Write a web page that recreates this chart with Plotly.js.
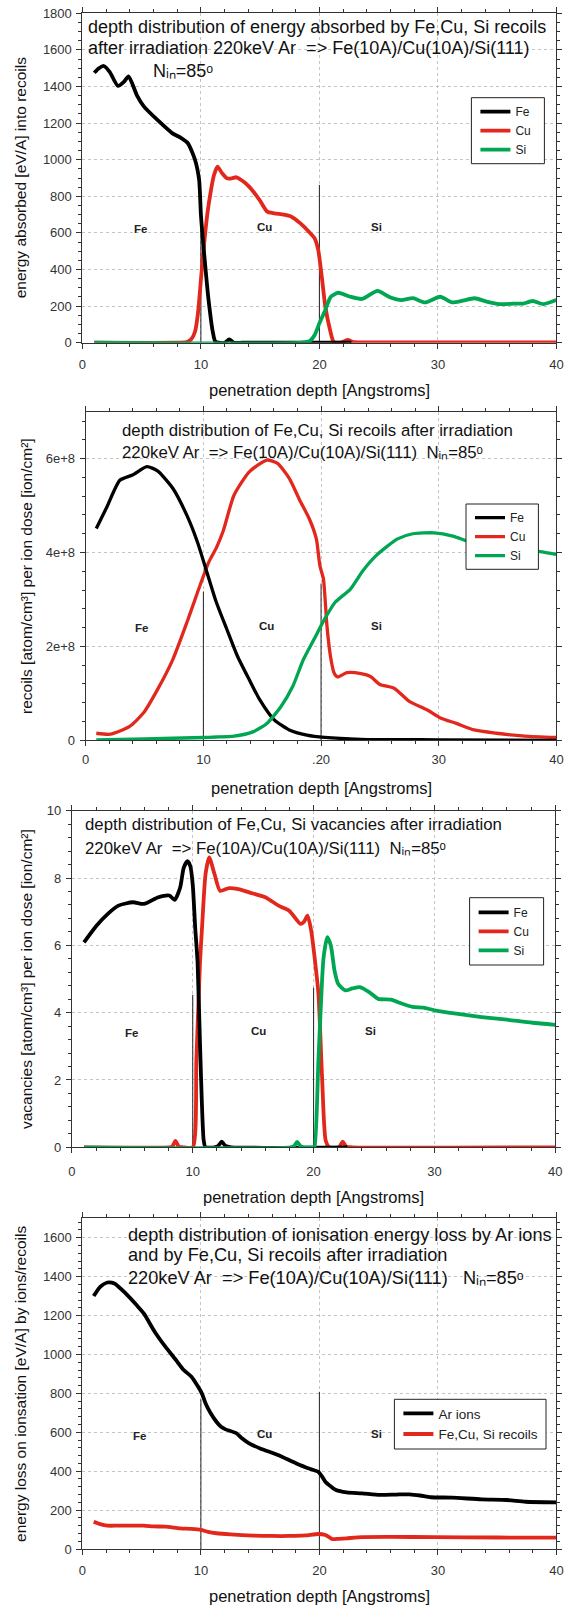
<!DOCTYPE html>
<html>
<head>
<meta charset="utf-8">
<script src="https://cdn.plot.ly/plotly-3.0.1.min.js"></script>
<style>
html,body{margin:0;padding:0;background:#fff;}
#chart{width:566px;height:1605px;}
</style>
</head>
<body>
<div id="chart"></div>
<script>
// ---------------- DATA ----------------
// Panel 1: energy absorbed [eV/A] into recoils
const p1FeX = [1.0,1.4,1.8,2.3,3.0,3.5,3.9,4.6,5.2,6.4,7.6,8.25,8.9,9.5,9.85,10.0,10.2,10.4,10.6,10.85,11.0,11.2,11.5,12.0,12.4,12.8,13.5,20.0,22.7];
const p1FeY = [1475,1500,1512,1480,1403,1425,1455,1352,1290,1213,1144,1122,1090,1000,890,700,540,397,260,124,60,8,0,0,18,0,0,0,0];
const p1CuX = [1,8,8.8,9.2,9.5,9.75,10.0,10.25,10.55,10.85,11.1,11.4,11.8,12.2,12.6,13.0,13.7,14.4,15.0,15.6,16.2,17.0,17.6,18.4,19.1,19.6,19.9,20.2,20.5,20.9,21.2,21.6,22.0,22.4,22.8,23.5,30,40];
const p1CuY = [0,0,3,20,60,160,343,525,707,834,915,962,925,898,898,904,875,828,775,716,707,700,690,652,607,570,507,361,197,69,5,0,5,15,5,2,2,2];
const p1SiX = [1,18.5,19.2,19.6,20.0,20.5,20.96,21.6,22.6,23.6,24.9,26.0,26.9,27.9,28.9,30.2,31.2,32.0,33.1,34.1,35.2,36.4,37.2,38.0,38.9,40];
const p1SiY = [0,0,10,42,106,179,251,273,251,239,283,247,233,243,220,251,220,228,243,225,211,213,214,228,211,233];

// Panel 2: recoils [atom/cm3] per ion dose [ion/cm2]
const p2FeX = [0.9,1.8,2.9,3.97,5.2,6.1,7.4,8.6,9.5,10.3,11.1,12.0,12.9,13.9,14.8,16.0,17.3,18.8,20.3,23.4,30,40];
const p2FeY = [4.51e8,4.97e8,5.54e8,5.65e8,5.83e8,5.74e8,5.37e8,4.79e8,4.22e8,3.58e8,2.94e8,2.36e8,1.79e8,1.29e8,0.86e8,0.44e8,0.22e8,0.11e8,0.06e8,0.02e8,0.01e8,0];
const p2CuX = [0.9,2.1,3.7,4.9,6.1,7.4,8.6,9.5,10.45,11.1,11.7,12.6,13.9,15.4,16.3,17.3,18.2,19.0,19.6,19.9,20.2,20.5,20.8,21.1,21.4,22.2,23.4,24.2,25.0,26.2,27.5,29.0,30.2,31.5,33.0,34.9,37.3,40];
const p2CuY = [0.15e8,0.13e8,0.29e8,0.58e8,1.08e8,1.72e8,2.51e8,3.15e8,3.79e8,4.1e8,4.47e8,5.22e8,5.72e8,5.97e8,5.9e8,5.58e8,5.11e8,4.72e8,4.29e8,3.72e8,3.44e8,2.44e8,1.79e8,1.44e8,1.35e8,1.44e8,1.42e8,1.36e8,1.19e8,1.11e8,0.83e8,0.65e8,0.47e8,0.36e8,0.22e8,0.15e8,0.09e8,0.06e8];
const p2SiX = [0.9,5,10,11.1,12.6,14.2,15.4,16.6,17.6,18.5,19.4,20.3,21.2,22.5,23.1,23.46,24.7,26.5,27.8,29.6,31.2,32.7,34.5,36.5,38.6,40];
const p2SiY = [0.01e8,0.03e8,0.06e8,0.07e8,0.09e8,0.18e8,0.36e8,0.72e8,1.15e8,1.72e8,2.15e8,2.58e8,2.94e8,3.22e8,3.44e8,3.58e8,3.94e8,4.29e8,4.4e8,4.42e8,4.35e8,4.22e8,4.15e8,4.08e8,4.02e8,3.96e8];

// Panel 3: vacancies [atom/cm3] per ion dose [ion/cm2]
const p3FeX = [1.0,2.05,2.95,3.85,5.05,5.95,7.16,8.06,8.5,8.96,9.25,9.56,9.8,10.0,10.2,10.4,10.6,10.9,11.05,11.8,12.1,12.4,12.7,13.2,22.8];
const p3FeY = [6.09,6.59,6.93,7.18,7.28,7.23,7.43,7.48,7.35,7.72,8.3,8.5,8.35,7.8,6.54,5.5,3.08,0.22,0,0,0.04,0.17,0.04,0,0];
const p3CuX = [1,8.0,8.3,8.57,8.85,9.2,10.0,10.3,10.6,10.77,11.06,11.36,11.8,12.26,13.0,13.77,14.97,16.0,17.1,17.98,18.9,19.2,19.5,19.8,20.08,20.4,20.7,21.0,21.3,22.1,22.4,22.7,23.2,40];
const p3CuY = [0,0,0.02,0.19,0.02,0,0,2.59,5.5,6.54,8.12,8.61,8.12,7.62,7.7,7.67,7.54,7.43,7.18,7.03,6.64,6.7,6.88,6.44,5.65,4.56,2.09,0.2,0,0,0.17,0.02,0,0];
const p3SiX = [1,18.1,18.4,18.64,18.9,19.2,20.0,20.08,20.4,20.7,20.83,21.13,21.43,21.73,22.03,22.63,23.2,23.84,24.6,25.34,26.4,27.0,28.2,29.1,30.0,31.8,33.9,36.0,38.1,40];
const p3SiY = [0,0,0.04,0.16,0.04,0,0,0,2.59,4.96,5.65,6.24,5.99,5.25,4.86,4.66,4.72,4.76,4.61,4.41,4.39,4.31,4.17,4.15,4.07,3.97,3.87,3.79,3.7,3.64];

// Panel 4: energy loss on ionisation [eV/A]
const p4ArX = [0.95,1.5,2.1,2.7,3.65,4.57,5.18,6.1,7.0,7.9,8.55,9.2,9.77,10.08,10.39,10.8,11.31,11.7,12.08,13.0,13.46,14.07,15.0,16.5,18.05,19.3,19.9,20.2,20.5,21.0,21.4,22.3,23.6,25.1,26.5,27.6,28.5,29.4,31.2,33.7,35.8,37.4,40];
const p4ArY = [1300,1348,1370,1365,1314,1254,1211,1117,1040,971,920,886,834,800,749,700,654,628,615,595,569,543,517,483,440,410,397,375,346,320,303,291,286,278,280,281,275,266,264,255,252,243,240];
const p4RecX = [0.95,1.5,2.1,3.0,5.18,6.0,7.0,8.25,9.2,10.0,10.6,11.3,12.5,14.4,16.0,17.4,18.8,19.9,20.5,20.8,21.1,21.6,22.3,23.6,26,29.7,35,40];
const p4RecY = [140,128,120,120,120,116,115,106,103,98,88,81,75,69,67,67,70,77,72,62,51,52,55,61,62,61,59,58];

// Layer boundaries (depth of interfaces) and the heights of the marker lines per panel
const layerBoundaries = [10, 20];
const boundaryTop1 = [620, 862];
const boundaryTop2 = [3.17e8, 3.34e8];
const boundaryTop3 = [4.53, 4.74];
const boundaryTop4 = [769, 808];

// Tick labels
const xTickVals = [0, 10, 20, 30, 40];
const xTickText = ['0', '10', '20', '30', '40'];
const xTickText2 = ['0', '10', '.20', '30', '40'];

const layerNames = ['Fe', 'Cu', 'Si'];

// ---------------- LAYOUT ----------------
const W = 566, H = 1605;
const FONT = 'Liberation Sans, Arial, Helvetica, sans-serif';
const RED = '#e2281d', GREEN = '#00a651', BLACK = '#000000';
const boxes = [
  {l: 82.4, r: 556.4, t: 13.3, b: 342.7},
  {l: 85.7, r: 556.4, t: 411.7, b: 740.3},
  {l: 71.9, r: 555.3, t: 810.7, b: 1147.3},
  {l: 82.4, r: 556.4, t: 1218.3, b: 1549}
];
const px = v => v / W;
const py = v => 1 - v / H;

function xAxis(i, ticktext, standoff) {
  const b = boxes[i];
  return {
    domain: [px(b.l), px(b.r)], anchor: i === 0 ? 'y' : 'y' + (i + 1),
    range: [0, 40], tickmode: 'array', tickvals: xTickVals, ticktext: ticktext,
    ticks: 'outside', ticklen: 5, tickwidth: 1, tickcolor: '#333',
    showline: true, linecolor: '#333', linewidth: 1, mirror: 'ticks',
    showgrid: true, gridcolor: '#c4c4c4', griddash: 'dot', gridwidth: 1, zeroline: false,
    minor: {tickmode: 'linear', tick0: 0, dtick: 2, ticks: 'outside', ticklen: 3, tickcolor: '#333', showgrid: false},
    tickfont: {family: FONT, size: 13, color: '#333'}, ticklabelstandoff: standoff,
    fixedrange: true
  };
}
function yAxis(i, range, dtick, mdtick, extra) {
  const b = boxes[i];
  return Object.assign({
    domain: [py(b.b), py(b.t)], anchor: i === 0 ? 'x' : 'x' + (i + 1),
    range: range, tickmode: 'linear', tick0: 0, dtick: dtick,
    ticks: 'outside', ticklen: 5, tickwidth: 1, tickcolor: '#333',
    showline: true, linecolor: '#333', linewidth: 1, mirror: 'ticks',
    showgrid: true, gridcolor: '#c4c4c4', griddash: 'dot', gridwidth: 1, zeroline: false,
    minor: {tickmode: 'linear', tick0: 0, dtick: mdtick, ticks: 'outside', ticklen: 3, tickcolor: '#333', showgrid: false},
    tickfont: {family: FONT, size: 13, color: '#333'}, ticklabelstandoff: 2,
    fixedrange: true
  }, extra || {});
}

const traces = [];
function axNames(i) { return i === 0 ? ['x', 'y'] : ['x' + (i + 1), 'y' + (i + 1)]; }
function addBoundaries(i, tops) {
  const [xa, ya] = axNames(i);
  const xs = [], ys = [];
  layerBoundaries.forEach((d, k) => { xs.push(d, d, null); ys.push(0, tops[k], null); });
  traces.push({x: xs, y: ys, xaxis: xa, yaxis: ya, mode: 'lines', showlegend: false, hoverinfo: 'skip',
    line: {color: '#222', width: 1}});
}
function addCurve(i, x, y, name, color, rank, width) {
  const [xa, ya] = axNames(i);
  traces.push({x: x, y: y, xaxis: xa, yaxis: ya, mode: 'lines', name: name,
    legend: i === 0 ? 'legend' : 'legend' + (i + 1), legendrank: rank,
    line: {color: color, width: width || 3.8, shape: 'spline', smoothing: 0.6}});
}

addBoundaries(0, boundaryTop1);
addCurve(0, p1CuX, p1CuY, 'Cu', RED, 2);
addCurve(0, p1FeX, p1FeY, 'Fe', BLACK, 1);
addCurve(0, p1SiX, p1SiY, 'Si', GREEN, 3);

addBoundaries(1, boundaryTop2);
addCurve(1, p2CuX, p2CuY, 'Cu', RED, 2, 3.3);
addCurve(1, p2FeX, p2FeY, 'Fe', BLACK, 1, 3.3);
addCurve(1, p2SiX, p2SiY, 'Si', GREEN, 3, 3.3);

addBoundaries(2, boundaryTop3);
addCurve(2, p3CuX, p3CuY, 'Cu', RED, 2);
addCurve(2, p3FeX, p3FeY, 'Fe', BLACK, 1);
addCurve(2, p3SiX, p3SiY, 'Si', GREEN, 3);

addBoundaries(3, boundaryTop4);
addCurve(3, p4ArX, p4ArY, 'Ar ions', BLACK, 1);
addCurve(3, p4RecX, p4RecY, 'Fe,Cu, Si recoils', RED, 2);

const annotations = [];
function note(text, xPx, yPx, size, opts) {
  annotations.push(Object.assign({
    text: text, xref: 'paper', yref: 'paper', x: px(xPx), y: py(yPx),
    xanchor: 'left', yanchor: 'middle', showarrow: false, align: 'left',
    font: {family: FONT, size: size, color: '#111'}
  }, opts || {}));
}
const NIN = 'N\u1D62\u2099=85\u1D52';
const NB = '\u00a0';
// Panel titles inside plots
note('depth distribution of energy absorbed by Fe,Cu, Si recoils', 85.7, 26.7, 18);
note('after irradiation 220keV Ar' + NB + ' => Fe(10A)/Cu(10A)/Si(111)', 85.7, 48.3, 18);
note(NIN, 151, 71, 18);
note('depth distribution of Fe,Cu, Si recoils after irradiation', 120, 430.7, 16.8);
note('220keV Ar' + NB + ' => Fe(10A)/Cu(10A)/Si(111)' + NB + ' ' + NIN, 120, 452, 16.8);
note('depth distribution of Fe,Cu, Si vacancies after irradiation', 83, 825, 16.8);
note('220keV Ar' + NB + ' => Fe(10A)/Cu(10A)/Si(111)' + NB + ' ' + NIN, 83, 848.5, 16.8);
note('depth distribution of ionisation energy loss by Ar ions', 126, 1235, 18.2);
note('and by Fe,Cu, Si recoils after irradiation', 126, 1254.8, 18.2);
note('220keV Ar' + NB + ' => Fe(10A)/Cu(10A)/Si(111)' + NB + NB + ' ' + NIN, 126, 1277.5, 18.2);

// Axis titles
const xTitleY = [390, 788, 1197, 1596];
boxes.forEach((b, i) => {
  note('penetration depth [Angstroms]', (b.l + b.r) / 2, xTitleY[i], 16.5, {xanchor: 'center'});
});
const yTitles = [
  'energy absorbed [eV/A] into recoils',
  'recoils [atom/cm\u00b3] per ion dose [ion/cm\u00b2]',
  'vacancies [atom/cm\u00b3] per ion dose [ion/cm\u00b2]',
  'energy loss on ionsation [eV/A] by ions/recoils'
];
const yTitleX = [20.3, 26, 26, 20.3];
boxes.forEach((b, i) => {
  note(yTitles[i], yTitleX[i], (b.t + b.b) / 2, 15.5, {xanchor: 'center', textangle: -90});
});

// Layer labels (in data coordinates)
const labelPos = [
  {x: [4.9, 15.4, 24.8], y: [620, 632, 630]},
  {x: [4.7, 15.4, 24.7], y: [2.39e8, 2.44e8, 2.43e8]},
  {x: [4.9, 15.4, 24.7], y: [3.41, 3.47, 3.47]},
  {x: [4.8, 15.4, 24.8], y: [581, 591, 591]}
];
labelPos.forEach((p, i) => {
  const [xa, ya] = axNames(i);
  layerNames.forEach((n, k) => {
    annotations.push({text: n, xref: xa, yref: ya, x: p.x[k], y: p.y[k],
      showarrow: false, xanchor: 'center', yanchor: 'middle',
      font: {family: FONT, size: 11.5, color: '#222', weight: 'bold'}});
  });
});

// Legend frames
const legendBoxes = [
  {l: 471.4, r: 544.4, t: 97.7, b: 163.7},
  {l: 466, r: 538.4, t: 504, b: 569.3},
  {l: 469.6, r: 543.6, t: 897.7, b: 965},
  {l: 394.4, r: 546, t: 1399.3, b: 1449}
];
const shapes = legendBoxes.map(b => ({
  type: 'rect', xref: 'paper', yref: 'paper', x0: px(b.l), x1: px(b.r), y0: py(b.b), y1: py(b.t),
  line: {color: '#222', width: 1}, fillcolor: '#ffffff', layer: 'above'
}));
function legendCfg(i, size) {
  const b = legendBoxes[i];
  return {x: px(b.l + 4), y: py((b.t + b.b) / 2), xanchor: 'left', yanchor: 'middle',
    bgcolor: 'rgba(0,0,0,0)', borderwidth: 0, font: {family: FONT, size: size, color: '#222'},
    tracegroupgap: 0, itemclick: false, itemdoubleclick: false};
}

const layout = {
  width: W, height: H, margin: {l: 0, r: 0, t: 0, b: 0},
  paper_bgcolor: '#ffffff', plot_bgcolor: '#ffffff',
  font: {family: FONT, color: '#222'},
  xaxis: xAxis(0, xTickText, 5),
  yaxis: yAxis(0, [0, 1800], 200, 50),
  xaxis2: xAxis(1, xTickText2, 2),
  yaxis2: yAxis(1, [0, 7e8], 2e8, 4e7, {exponentformat: 'e', showexponent: 'all'}),
  xaxis3: xAxis(2, xTickText, 7),
  yaxis3: yAxis(2, [0, 10], 2, 0.4),
  xaxis4: xAxis(3, xTickText, 4),
  yaxis4: yAxis(3, [0, 1700], 200, 40),
  legend: legendCfg(0, 12),
  legend2: legendCfg(1, 12),
  legend3: legendCfg(2, 12),
  legend4: legendCfg(3, 13.5),
  annotations: annotations,
  shapes: shapes,
  showlegend: true
};

Plotly.newPlot('chart', traces, layout, {displayModeBar: false, staticPlot: true});
</script>
</body>
</html>
